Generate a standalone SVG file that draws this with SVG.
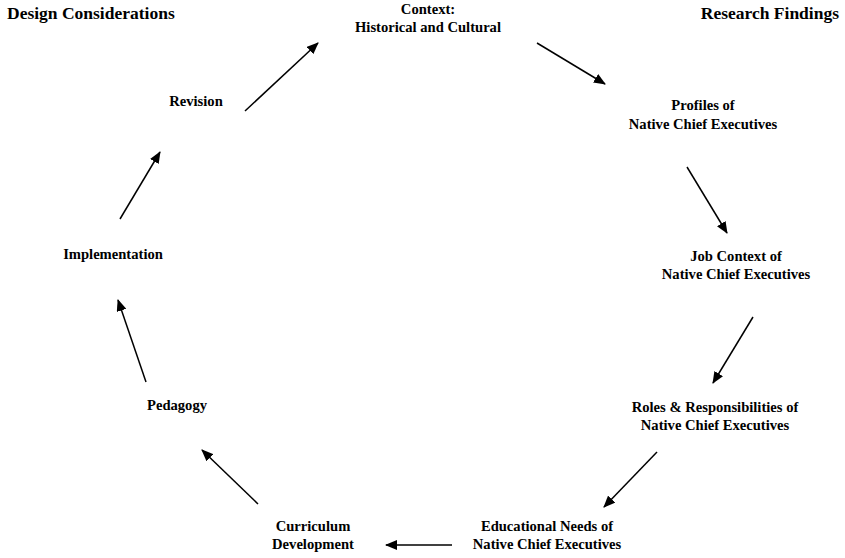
<svg xmlns="http://www.w3.org/2000/svg" width="845" height="558" viewBox="0 0 845 558">
<style>
text{font-family:"Liberation Serif","Times New Roman",serif;font-weight:bold;fill:#000;text-anchor:middle}
.h{font-size:17.5px}
.n{font-size:14.6px}
.c line{stroke:#000;stroke-width:1.5;marker-end:url(#ah)}
</style>
<defs>
<marker id="ah" markerUnits="userSpaceOnUse" markerWidth="12" markerHeight="10" refX="11" refY="5" orient="auto">
<path d="M0,0 L12,5 L0,10 Z" fill="#000"/>
</marker>
</defs>
<rect width="845" height="558" fill="#fff"/>
<g id="title-left"><text class="h" x="7" y="19" style="text-anchor:start">Design Considerations</text></g>
<g id="title-right"><text class="h" x="839" y="19" style="text-anchor:end">Research Findings</text></g>
<g id="context"><text class="n" x="428" y="14">Context:</text><text class="n" x="428" y="32">Historical and Cultural</text></g>
<g id="profiles"><text class="n" x="703" y="110">Profiles of</text><text class="n" x="703" y="129">Native Chief Executives</text></g>
<g id="job"><text class="n" x="736" y="261">Job Context of</text><text class="n" x="736" y="279">Native Chief Executives</text></g>
<g id="roles"><text class="n" x="715" y="412">Roles &amp; Responsibilities of</text><text class="n" x="715" y="430">Native Chief Executives</text></g>
<g id="needs"><text class="n" x="547" y="531">Educational Needs of</text><text class="n" x="547" y="549">Native Chief Executives</text></g>
<g id="curriculum"><text class="n" x="313" y="531">Curriculum</text><text class="n" x="313" y="549">Development</text></g>
<g id="pedagogy"><text class="n" x="177" y="410">Pedagogy</text></g>
<g id="implementation"><text class="n" x="113" y="259">Implementation</text></g>
<g id="revision"><text class="n" x="196" y="106">Revision</text></g>
<g id="connectors" class="c">
<line x1="245" y1="111" x2="318" y2="43"/>
<line x1="537" y1="43" x2="605" y2="84"/>
<line x1="687" y1="167" x2="727" y2="233"/>
<line x1="753" y1="317" x2="713" y2="383"/>
<line x1="657" y1="452" x2="604" y2="507"/>
<line x1="452" y1="545" x2="386" y2="545"/>
<line x1="258" y1="504" x2="202" y2="450"/>
<line x1="146" y1="382" x2="118" y2="300"/>
<line x1="120" y1="219" x2="160" y2="152"/>
</g>
</svg>
